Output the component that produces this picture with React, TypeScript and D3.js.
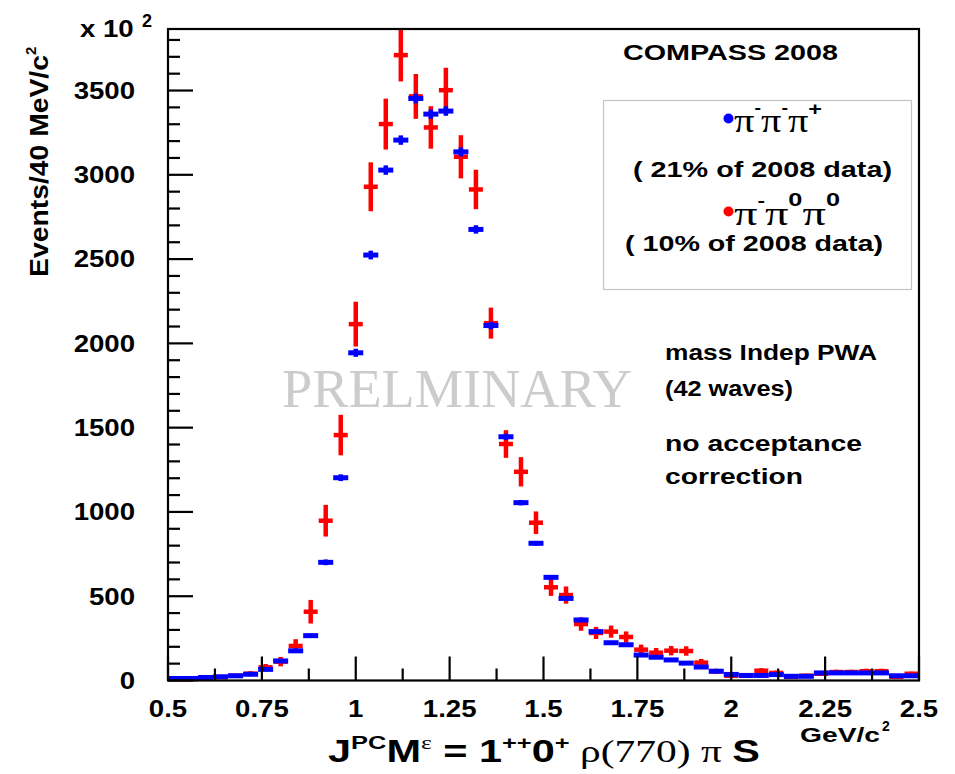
import React from 'react';
import * as d3 from 'd3';

// Mass bin centres (GeV/c^2), 40 MeV wide bins
const massBins = [
  0.52, 0.56, 0.6, 0.64, 0.68, 0.72, 0.76, 0.8, 0.84, 0.88,
  0.92, 0.96, 1.0, 1.04, 1.08, 1.12, 1.16, 1.2, 1.24, 1.28,
  1.32, 1.36, 1.4, 1.44, 1.48, 1.52, 1.56, 1.6, 1.64, 1.68,
  1.72, 1.76, 1.8, 1.84, 1.88, 1.92, 1.96, 2.0, 2.04, 2.08,
  2.12, 2.16, 2.2, 2.24, 2.28, 2.32, 2.36, 2.4, 2.44, 2.48,
];

// pi- pi- pi+ intensities (x 10^2 events)
const chargedCounts = [
  12, 12, 18, 22, 28, 37, 66, 116, 176, 266,
  701, 1203, 1944, 2524, 3028, 3206, 3453, 3360, 3378, 3136,
  2676, 2106, 1446, 1055, 814, 612, 487, 359, 290, 224,
  212, 151, 138, 122, 103, 80, 55, 36, 30, 30,
  35, 25, 25, 45, 45, 45, 45, 45, 28, 28,
];
const chargedErrors = [
  3, 3, 4, 4, 5, 5, 6, 8, 10, 12,
  17, 20, 24, 26, 28, 28, 29, 28, 28, 27,
  25, 22, 18, 16, 14, 12, 11, 9, 8, 8,
  7, 6, 6, 5, 5, 4, 4, 3, 3, 3,
  3, 3, 3, 3, 3, 3, 3, 3, 3, 3,
];

// pi- pi0 pi0 intensities (scaled)
const neutralCounts = [
  8, 8, 15, 20, 28, 40, 78, 112, 205, 408,
  948, 1456, 2114, 2929, 3301, 3710, 3465, 3281, 3502, 3107,
  2913, 2120, 1403, 1238, 936, 553, 507, 335, 282, 290,
  258, 183, 165, 177, 175, 106, 55, 28, 28, 58,
  45, 22, 28, 40, 50, 50, 55, 55, 22, 40,
];
const neutralErrors = [
  8, 8, 10, 10, 12, 15, 20, 28, 40, 70,
  94, 120, 133, 145, 151, 156, 133, 126, 133, 128,
  117, 92, 82, 87, 67, 51, 51, 40, 36, 36,
  33, 30, 28, 28, 28, 22, 15, 12, 12, 15,
  14, 10, 12, 13, 14, 14, 15, 15, 10, 12,
];

const xTickLabels = ['0.5', '0.75', '1', '1.25', '1.5', '1.75', '2', '2.25', '2.5'];
const yTickLabels = ['0', '500', '1000', '1500', '2000', '2500', '3000', '3500'];

const W = 955;
const H = 774;
const frame = { left: 168, right: 919, top: 29, bottom: 680.5 };
const BIN = 0.04;

const SANS = '"Liberation Sans", Arial, Helvetica, sans-serif';
const SERIF = '"Liberation Serif", "Times New Roman", serif';
const BLUE = '#0000ff';
const RED = '#ff0000';

export default function App() {
  const x = d3.scaleLinear().domain([0.5, 2.5]).range([frame.left, frame.right]);
  const y = d3.scaleLinear().domain([0, 3865]).range([frame.bottom, frame.top]);

  const xMajor = xTickLabels.map((t) => +t);
  const xMinor = d3.range(0.5, 2.5001, 0.125).filter((v) => !xMajor.some((m) => Math.abs(m - v) < 1e-6));
  const yMajor = yTickLabels.map((t) => +t);
  const yMinor = d3.range(0, 3865, 100).filter((v) => v % 500 !== 0);

  const halfBin = (x(BIN) - x(0)) / 2;
  const thick = 4.5;

  return (
    <svg
      width={W}
      height={H}
      viewBox={`0 0 ${W} ${H}`}
      style={{ position: 'absolute', left: 0, top: 0, background: '#fff' }}
    >
      <rect x={0} y={0} width={W} height={H} fill="#fff" />

      {/* watermark */}
      <text
        x={282}
        y={407}
        fontFamily={SERIF}
        fontSize={54}
        fill="#cccccc"
        textLength={350}
        lengthAdjust="spacingAndGlyphs"
      >
        PRELMINARY
      </text>

      {/* legend box */}
      <rect x={603.5} y={100.5} width={308} height={189} fill="none" stroke="#c4c4c4" strokeWidth={1.2} />

      {/* pi- pi0 pi0 points */}
      <g fill={RED}>
        {massBins.map((m, i) => {
          const cx = x(m);
          const v = neutralCounts[i];
          const e = neutralErrors[i];
          const y0 = y(v);
          return (
            <g key={`n${i}`}>
              <rect x={cx - thick / 2} y={y(v + e)} width={thick} height={Math.max(0, y(v - e) - y(v + e))} />
              <rect x={cx - halfBin + 0.5} y={y0 - thick / 2} width={2 * halfBin - 1} height={thick} />
            </g>
          );
        })}
      </g>

      {/* pi- pi- pi+ points */}
      <g fill={BLUE}>
        {massBins.map((m, i) => {
          const cx = x(m);
          const v = chargedCounts[i];
          const e = chargedErrors[i];
          const y0 = y(v);
          return (
            <g key={`c${i}`}>
              <rect x={cx - thick / 2} y={y(v + e)} width={thick} height={Math.max(0, y(v - e) - y(v + e))} />
              <rect x={cx - halfBin} y={y0 - thick / 2 - 0.25} width={2 * halfBin} height={thick + 0.5} />
            </g>
          );
        })}
      </g>

      {/* frame */}
      <rect
        x={frame.left}
        y={frame.top}
        width={frame.right - frame.left}
        height={frame.bottom - frame.top}
        fill="none"
        stroke="#000"
        strokeWidth={2.2}
      />

      {/* ticks */}
      <g stroke="#000" strokeWidth={2.2}>
        {xMajor.map((v) => (
          <line key={`xM${v}`} x1={x(v)} x2={x(v)} y1={frame.bottom} y2={frame.bottom - 24} />
        ))}
        {xMinor.map((v) => (
          <line key={`xm${v}`} x1={x(v)} x2={x(v)} y1={frame.bottom} y2={frame.bottom - 12} />
        ))}
        {yMajor.map((v) => (
          <line key={`yM${v}`} x1={frame.left} x2={frame.left + 25} y1={y(v)} y2={y(v)} />
        ))}
        {yMinor.map((v) => (
          <line key={`ym${v}`} x1={frame.left} x2={frame.left + 12} y1={y(v)} y2={y(v)} />
        ))}
      </g>

      {/* tick labels */}
      <g fontFamily={SANS} fontWeight="bold" fontSize={23} fill="#000">
        {xTickLabels.map((t) => (
          <text key={`xl${t}`} transform={`translate(${x(+t)},717) scale(1.2,1)`} textAnchor="middle">
            {t}
          </text>
        ))}
        {yTickLabels.map((t) => (
          <text key={`yl${t}`} transform={`translate(135,${y(+t) + 8.3}) scale(1.2,1)`} textAnchor="end">
            {t}
          </text>
        ))}
        <text transform="translate(80,37) scale(1.2,1)">x 10</text>
        <text x={142} y={27} fontSize={18}>2</text>
      </g>

      {/* y axis title */}
      <g fontFamily={SANS} fontWeight="bold" fill="#000">
        <text
          transform="translate(48,277) rotate(-90)"
          fontSize={25}
          textLength={222}
          lengthAdjust="spacingAndGlyphs"
        >
          Events/40 MeV/c
        </text>
        <text transform="translate(36,55) rotate(-90)" fontSize={15} textAnchor="start">
          2
        </text>
      </g>

      {/* x unit */}
      <g fontFamily={SANS} fontWeight="bold" fill="#000">
        <text x={800} y={742} fontSize={20} textLength={80} lengthAdjust="spacingAndGlyphs">
          GeV/c
        </text>
        <text x={882} y={731} fontSize={14}>2</text>
      </g>

      {/* wave title */}
      <text
        x={328}
        y={762}
        fill="#000"
        textLength={432}
        lengthAdjust="spacingAndGlyphs"
        style={{ whiteSpace: 'pre' }}
      >
        <tspan fontFamily={SANS} fontWeight="bold" fontSize={31}>J</tspan>
        <tspan fontFamily={SANS} fontWeight="bold" fontSize={19} dy={-13}>PC</tspan>
        <tspan fontFamily={SANS} fontWeight="bold" fontSize={31} dy={13}>M</tspan>
        <tspan fontFamily={SERIF} fontSize={19} dy={-13}>ε</tspan>
        <tspan fontFamily={SANS} fontWeight="bold" fontSize={31} dy={13}> = 1</tspan>
        <tspan fontFamily={SANS} fontWeight="bold" fontSize={19} dy={-13}>++</tspan>
        <tspan fontFamily={SANS} fontWeight="bold" fontSize={31} dy={13}>0</tspan>
        <tspan fontFamily={SANS} fontWeight="bold" fontSize={19} dy={-13}>+</tspan>
        <tspan fontFamily={SERIF} fontSize={31} dy={13}> ρ(770) π </tspan>
        <tspan fontFamily={SANS} fontWeight="bold" fontSize={31}>S</tspan>
      </text>

      {/* annotations */}
      <g fontFamily={SANS} fontWeight="bold" fill="#000" fontSize={22}>
        <text x={623} y={60} textLength={215} lengthAdjust="spacingAndGlyphs">COMPASS 2008</text>
        <text x={633} y={177} textLength={259} lengthAdjust="spacingAndGlyphs">( 21% of 2008 data)</text>
        <text x={625} y={251} textLength={258} lengthAdjust="spacingAndGlyphs">( 10% of 2008 data)</text>
        <text x={665} y={360} textLength={212} lengthAdjust="spacingAndGlyphs">mass Indep PWA</text>
        <text x={665} y={396} textLength={128} lengthAdjust="spacingAndGlyphs">(42 waves)</text>
        <text x={665} y={451} textLength={197} lengthAdjust="spacingAndGlyphs">no acceptance</text>
        <text x={665} y={484} textLength={138} lengthAdjust="spacingAndGlyphs">correction</text>
      </g>

      {/* legend entries */}
      <circle cx={728.5} cy={118.5} r={5} fill={BLUE} />
      <text x={734} y={132} fill="#000" textLength={88} lengthAdjust="spacingAndGlyphs" style={{ whiteSpace: 'pre' }}>
        <tspan fontFamily={SERIF} fontSize={33}>π</tspan>
        <tspan fontFamily={SANS} fontWeight="bold" fontSize={16} dy={-19}>-</tspan>
        <tspan fontFamily={SERIF} fontSize={33} dy={19}>π</tspan>
        <tspan fontFamily={SANS} fontWeight="bold" fontSize={16} dy={-19}>-</tspan>
        <tspan fontFamily={SERIF} fontSize={33} dy={19}>π</tspan>
        <tspan fontFamily={SANS} fontWeight="bold" fontSize={19} dy={-17}>+</tspan>
      </text>
      <circle cx={728.5} cy={211.5} r={5} fill={RED} />
      <text x={734} y={225} fill="#000" textLength={106} lengthAdjust="spacingAndGlyphs" style={{ whiteSpace: 'pre' }}>
        <tspan fontFamily={SERIF} fontSize={33}>π</tspan>
        <tspan fontFamily={SANS} fontWeight="bold" fontSize={16} dy={-19}>-</tspan>
        <tspan fontFamily={SERIF} fontSize={33} dy={19}>π</tspan>
        <tspan fontFamily={SANS} fontWeight="bold" fontSize={18} dy={-19}>0</tspan>
        <tspan fontFamily={SERIF} fontSize={33} dy={19}>π</tspan>
        <tspan fontFamily={SANS} fontWeight="bold" fontSize={18} dy={-19}>0</tspan>
      </text>
    </svg>
  );
}
